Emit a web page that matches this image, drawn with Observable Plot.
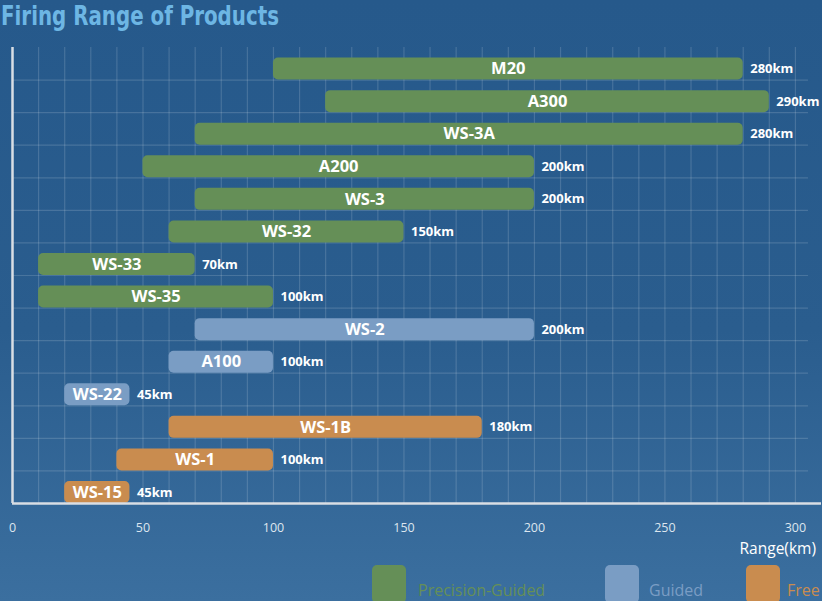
<!DOCTYPE html>
<html>
<head>
<meta charset="utf-8">
<script src="https://cdn.jsdelivr.net/npm/d3@7"></script>
<script src="https://cdn.jsdelivr.net/npm/@observablehq/plot@0.6"></script>
<style>
  html, body { margin: 0; padding: 0; }
  body {
    width: 822px; height: 601px; overflow: hidden; position: relative;
    background: linear-gradient(180deg, #26598b 0%, #2a5d8e 55%, #3b6f9f 100%);
    font-family: "Open Sans", sans-serif;
  }
  #title {
    position: absolute; left: 1px; top: 0px; margin: 0; white-space: nowrap;
    font-family: "Liberation Sans Narrow", "DejaVu Sans Condensed", "Roboto", sans-serif;
    font-stretch: condensed;
    font-weight: bold; font-size: 27px; line-height: 31px; color: #6db6e4;
    transform-origin: 0 0;
  }
  #chart { position: absolute; left: 0; top: 0; }
  #xlabel {
    position: absolute; right: 6px; top: 537px; color: #ffffff;
    font-size: 15.5px; font-family: "Open Sans", sans-serif;
  }
  .sw { position: absolute; width: 34px; height: 38px; border-radius: 5px; top: 565px; }
  .lg { position: absolute; top: 579px; font-size: 16px; font-family: "Open Sans", sans-serif; }
</style>
</head>
<body>
<div id="title">Firing Range of Products</div>
<div id="chart"></div>
<div id="xlabel">Range(km)</div>
<div id="legend"></div>
<script>
// ---- data ----
const products = ["M20","A300","WS-3A","A200","WS-3","WS-32","WS-33","WS-35","WS-2","A100","WS-22","WS-1B","WS-1","WS-15"];
const minRange = [100,120,70,50,70,60,10,10,70,60,20,60,40,20];
const maxRange = [280,290,280,200,200,150,70,100,200,100,45,180,100,45];
const guidance = ["Precision-Guided","Precision-Guided","Precision-Guided","Precision-Guided","Precision-Guided","Precision-Guided","Precision-Guided","Precision-Guided","Guided","Guided","Guided","Free","Free","Free"];
const categories = ["Precision-Guided","Guided","Free"];
const categoryColors = ["#658f57","#7a9dc4","#c98c4f"];
const xTicks = [0,50,100,150,200,250,300];
const gridStep = 10;

// fit the condensed title to the reference width
const title = document.getElementById("title");
const tw = title.getBoundingClientRect().width;
title.style.transform = `scaleX(${278 / tw})`;

const data = products.map((name, i) => ({
  name, i, start: minRange[i], end: maxRange[i], kind: guidance[i]
}));
const colorOf = k => categoryColors[categories.indexOf(k)];
const n = products.length;

const grid = "rgba(255,255,255,0.15)";
const axisColor = "#d9dee4";

const chart = Plot.plot({
  width: 822,
  height: 601,
  marginLeft: 12,
  marginRight: 1,
  marginTop: 47,
  marginBottom: 98,
  style: { background: "transparent", color: "#dde6ef", fontFamily: "Open Sans, sans-serif", overflow: "visible" },
  x: { domain: [0, 310], axis: null },
  y: { domain: [0, n], reverse: true, axis: null },
  marks: [
    Plot.ruleX(d3.range(gridStep, 300 + 1, gridStep), { y1: 0, y2: n, stroke: grid, strokeWidth: 1.2 }),
    Plot.ruleY(d3.range(1, n), { x1: 0, x2: 305, stroke: grid, strokeWidth: 1.2 }),
    Plot.rect(data, {
      x1: "start", x2: "end",
      y1: d => d.i + 0.325, y2: d => d.i + 1,
      fill: d => colorOf(d.kind), rx: 5
    }),
    Plot.text(data, {
      x: d => (d.start + d.end) / 2, y: d => d.i + 0.66,
      text: "name", fill: "#ffffff", fontWeight: "bold", fontSize: 16.5
    }),
    Plot.text(data, {
      x: "end", y: d => d.i + 0.66, dx: 7, textAnchor: "start",
      text: d => d.end + "km", fill: "#ffffff", fontWeight: "bold", fontSize: 13
    }),
    Plot.ruleX([0], { y1: 0, y2: n, stroke: axisColor, strokeWidth: 2.5 }),
    Plot.ruleY([n], { x1: 0, x2: 310, stroke: axisColor, strokeWidth: 2.5 }),
    Plot.axisX(xTicks, { tickSize: 0, tickPadding: 20, fontSize: 12.5, fill: "#dde6ef", label: null })
  ]
});
document.getElementById("chart").appendChild(chart);

// legend
const legend = document.getElementById("legend");
const swatchX = [372, 605, 746];
const textX = [418, 649, 787];
categories.forEach((c, k) => {
  const s = document.createElement("div");
  s.className = "sw"; s.style.left = swatchX[k] + "px"; s.style.background = categoryColors[k];
  legend.appendChild(s);
  const t = document.createElement("div");
  t.className = "lg"; t.style.left = textX[k] + "px"; t.style.color = categoryColors[k];
  t.textContent = c;
  legend.appendChild(t);
});
</script>
</body>
</html>
